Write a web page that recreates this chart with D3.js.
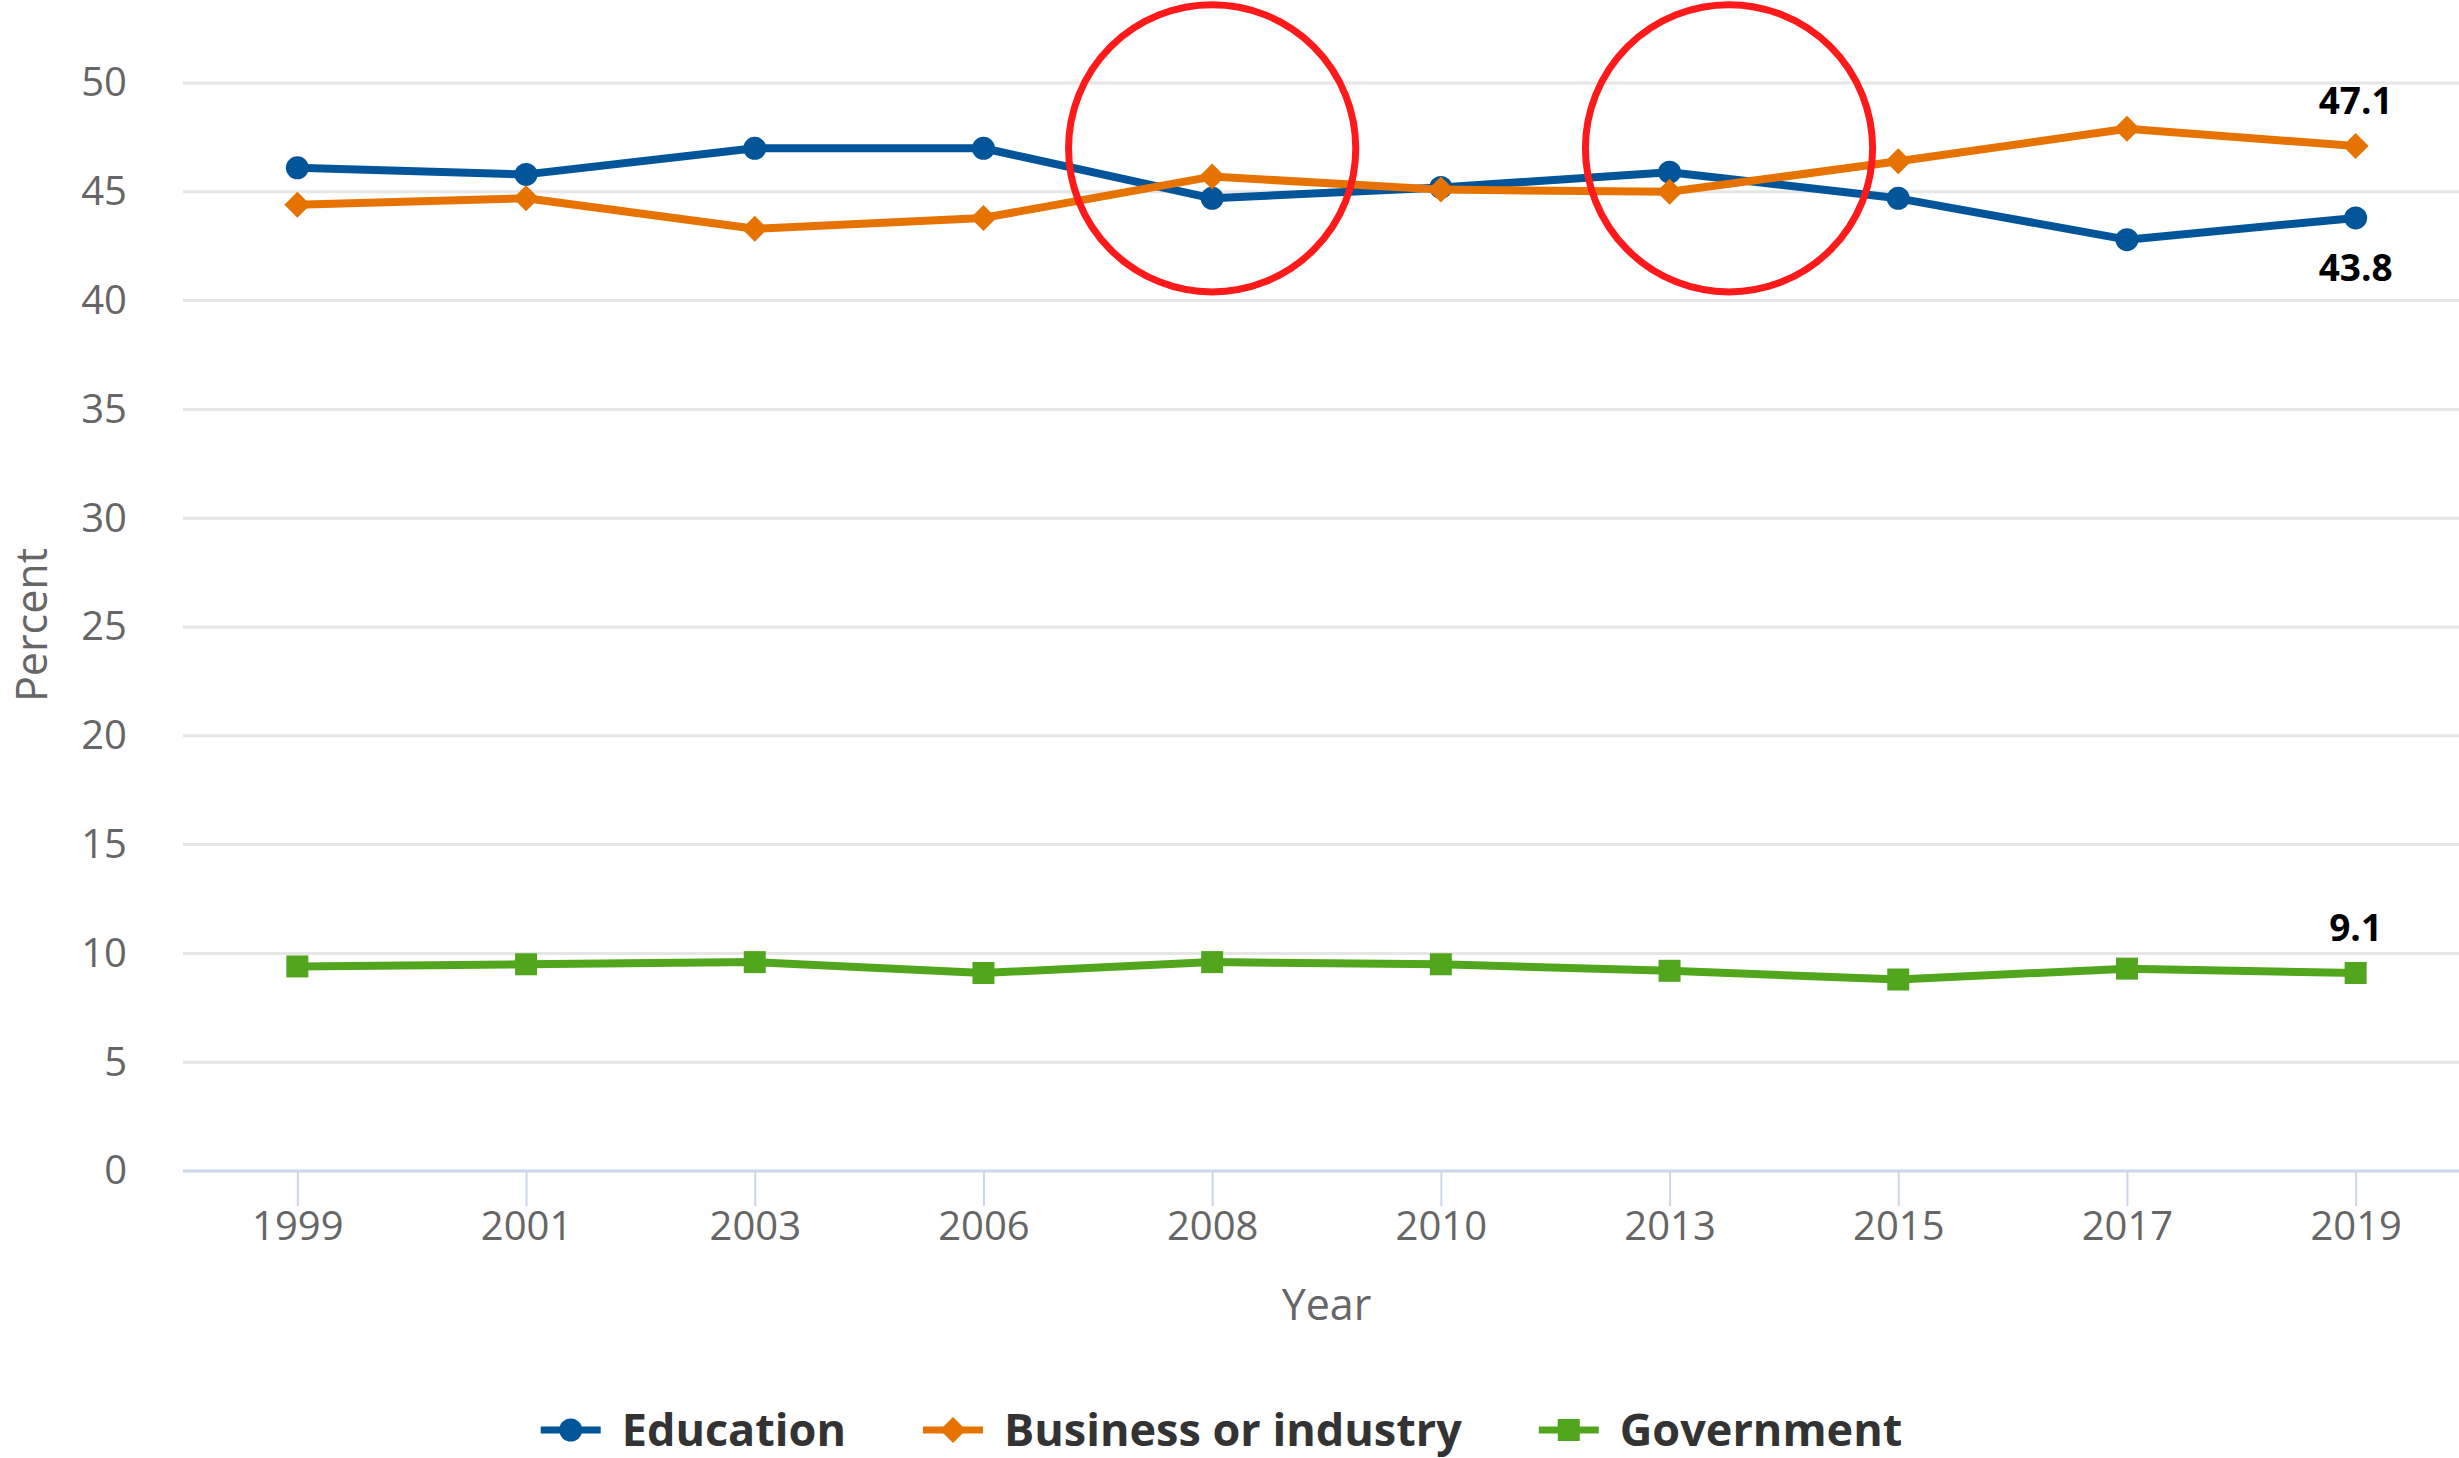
<!DOCTYPE html>
<html>
<head>
<meta charset="utf-8">
<script src="https://cdn.jsdelivr.net/npm/d3@7"></script>
<style>
  html, body { margin: 0; padding: 0; background: #fff; }
  svg { display: block; font-family: "Open Sans", "Noto Sans", sans-serif; }
</style>
</head>
<body>
<svg id="chart" width="2459" height="1458"></svg>
<script>
// Survey years
const years = ["1999", "2001", "2003", "2006", "2008", "2010", "2013", "2015", "2017", "2019"];

// Percent employed by sector
const education = [46.1, 45.8, 47.0, 47.0, 44.7, 45.2, 45.9, 44.7, 42.8, 43.8];
const business  = [44.4, 44.7, 43.3, 43.8, 45.7, 45.1, 45.0, 46.4, 47.9, 47.1];
const government = [9.4, 9.5, 9.6, 9.1, 9.6, 9.5, 9.2, 8.8, 9.3, 9.1];

const yTicks = [0, 5, 10, 15, 20, 25, 30, 35, 40, 45, 50];

// Highlight rings around the crossover points (year, fraction toward next year, value, radius in percent)
const highlights = [
  { year: "2008", shift: 0.0, value: 47.0, radius: 6.6 },
  { year: "2013", shift: 0.26, value: 47.0, radius: 6.6 }
];

const series = [
  { name: "Education", values: education, color: "#03559a", symbol: "circle", label: "below" },
  { name: "Business or industry", values: business, color: "#e67300", symbol: "diamond", label: "above" },
  { name: "Government", values: government, color: "#52a61e", symbol: "square", label: "above" }
];

const svg = d3.select("#chart");
const W = 2459, H = 1458;
const plotLeft = 183, plotRight = 2470, plotTop = 83, plotBottom = 1171;

const x = d3.scalePoint().domain(years).range([plotLeft, plotRight]).padding(0.5);
const y = d3.scaleLinear().domain([0, 50]).range([plotBottom, plotTop]);

// Gridlines
svg.append("g")
  .selectAll("line")
  .data(yTicks.filter(d => d > 0))
  .join("line")
  .attr("x1", plotLeft).attr("x2", plotRight)
  .attr("y1", d => y(d)).attr("y2", d => y(d))
  .attr("stroke", "#e6e6e6").attr("stroke-width", 3);

// Y axis labels
const yAxis = d3.axisLeft(y).tickValues(yTicks).tickSize(0).tickPadding(56);
svg.append("g")
  .attr("transform", `translate(${plotLeft},0)`)
  .call(yAxis)
  .call(g => g.select(".domain").remove())
  .call(g => g.selectAll("text")
    .attr("font-size", 40).attr("fill", "#666").attr("font-family", "Open Sans"));

// X axis
const xAxis = d3.axisBottom(x).tickSize(35).tickPadding(6);
svg.append("g")
  .attr("transform", `translate(0,${plotBottom})`)
  .call(xAxis)
  .call(g => g.select(".domain")
    .attr("d", `M${plotLeft},0H${plotRight}`)
    .attr("stroke", "#ccd6eb").attr("stroke-width", 3))
  .call(g => g.selectAll(".tick line").attr("stroke", "#ccd6eb").attr("stroke-width", 2))
  .call(g => g.selectAll("text")
    .attr("font-size", 40).attr("fill", "#666").attr("font-family", "Open Sans"));

// Axis titles
svg.append("text")
  .attr("x", (plotLeft + plotRight) / 2).attr("y", 1320)
  .attr("text-anchor", "middle")
  .attr("font-size", 43).attr("fill", "#666")
  .text("Year");

svg.append("text")
  .attr("transform", `translate(47,625) rotate(-90)`)
  .attr("text-anchor", "middle")
  .attr("font-size", 43).attr("fill", "#666")
  .text("Percent");

// Marker shapes
function drawMarker(g, symbol, cx, cy, color) {
  if (symbol === "circle") {
    g.append("circle").attr("cx", cx).attr("cy", cy).attr("r", 11.5).attr("fill", color);
  } else if (symbol === "diamond") {
    const r = 13;
    g.append("path")
      .attr("d", `M${cx},${cy - r}L${cx + r},${cy}L${cx},${cy + r}L${cx - r},${cy}Z`)
      .attr("fill", color);
  } else {
    const s = 22;
    g.append("rect").attr("x", cx - s / 2).attr("y", cy - s / 2)
      .attr("width", s).attr("height", s).attr("fill", color);
  }
}

const line = d3.line().x((d, i) => x(years[i])).y(d => y(d));

series.forEach(s => {
  const g = svg.append("g");
  g.append("path")
    .attr("d", line(s.values))
    .attr("fill", "none")
    .attr("stroke", s.color)
    .attr("stroke-width", 8)
    .attr("stroke-linejoin", "round");
  s.values.forEach((v, i) => drawMarker(g, s.symbol, x(years[i]), y(v), s.color));
});

// Value labels at the last year
series.forEach(s => {
  const last = s.values.length - 1;
  const v = s.values[last];
  const cx = x(years[last]);
  const cy = y(v);
  svg.append("text")
    .attr("x", cx)
    .attr("y", s.label === "above" ? cy - 32 : cy + 63)
    .attr("text-anchor", "middle")
    .attr("font-size", 37).attr("font-weight", 700)
    .attr("fill", "#000")
    .attr("stroke", "#fff").attr("stroke-width", 4).attr("paint-order", "stroke")
    .text(d3.format(".1f")(v));
});

// Highlight rings
highlights.forEach(h => {
  const cx = x(h.year) + h.shift * x.step();
  const cy = y(h.value);
  const r = y(h.value - h.radius) - cy;
  svg.append("circle")
    .attr("cx", cx).attr("cy", cy).attr("r", r)
    .attr("fill", "none").attr("stroke", "#fe1a1a").attr("stroke-width", 7);
});

// Legend
const legend = svg.append("g");
let cursor = 0;
const legendY = 1430;
series.forEach(s => {
  const item = legend.append("g").attr("transform", `translate(${cursor},0)`);
  item.append("line")
    .attr("x1", 0).attr("x2", 60).attr("y1", legendY).attr("y2", legendY)
    .attr("stroke", s.color).attr("stroke-width", 7);
  drawMarker(item, s.symbol, 30, legendY, s.color);
  const t = item.append("text")
    .attr("x", 81).attr("y", 1446)
    .attr("font-size", 45).attr("font-weight", 700).attr("fill", "#333")
    .text(s.name);
  cursor += 81 + t.node().getComputedTextLength() + 77;
});
const legendWidth = cursor - 77;
legend.attr("transform", `translate(${W / 2 - 8 - legendWidth / 2},0)`);
</script>
</body>
</html>
